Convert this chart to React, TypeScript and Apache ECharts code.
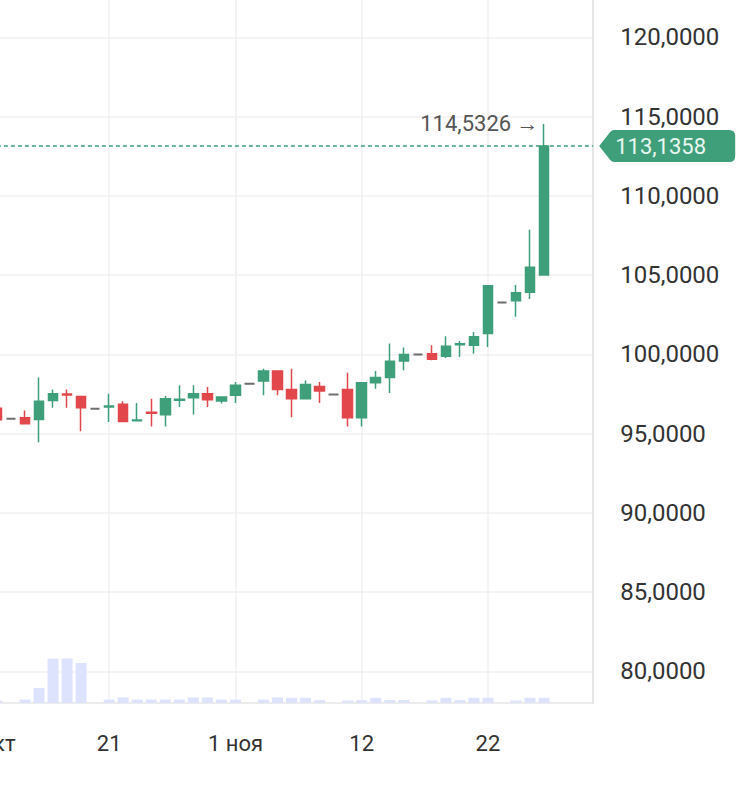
import React, { useEffect, useRef } from "react";
import * as echarts from "echarts";

// ---- data ----
const dates = [
  "2024-10-11", "2024-10-12", "2024-10-13", "2024-10-14", "2024-10-15", "2024-10-16", "2024-10-17", "2024-10-18",
  "2024-10-20", "2024-10-21", "2024-10-22", "2024-10-23", "2024-10-24", "2024-10-25", "2024-10-27", "2024-10-28",
  "2024-10-29", "2024-10-30", "2024-11-01", "2024-11-03", "2024-11-04", "2024-11-05", "2024-11-06", "2024-11-07",
  "2024-11-08", "2024-11-10", "2024-11-11", "2024-11-12", "2024-11-13", "2024-11-14", "2024-11-15", "2024-11-17",
  "2024-11-18", "2024-11-19", "2024-11-20", "2024-11-21", "2024-11-22", "2024-11-24", "2024-11-25", "2024-11-26",
  "2024-11-27", "2024-11-28", "2024-11-29", "2024-11-30",
];

const tickDates = ["2024-10-11", "2024-10-21", "2024-11-01", "2024-11-12", "2024-11-22"];
const tickLabels = ["11 окт", "21", "1 ноя", "12", "22"];

// [open, close, low, high]
const candles: number[][] = [
  [96.2, 96.6, 96.0, 96.8],
  [96.6, 95.87, 95.75, 96.75],
  [95.93, 95.93, 95.93, 95.93],
  [95.99, 95.61, 95.6, 96.46],
  [95.89, 97.04, 94.45, 98.53],
  [97.09, 97.51, 96.63, 97.77],
  [97.5, 97.43, 96.63, 97.77],
  [97.34, 96.63, 95.15, 97.36],
  [96.56, 96.56, 96.56, 96.56],
  [96.68, 96.74, 95.72, 97.51],
  [96.84, 95.76, 95.74, 97.04],
  [95.8, 95.86, 95.8, 96.92],
  [96.34, 96.28, 95.44, 97.19],
  [96.18, 97.19, 95.44, 97.36],
  [97.1, 97.16, 96.67, 98.04],
  [97.26, 97.51, 96.2, 98.04],
  [97.51, 97.13, 96.67, 97.93],
  [97.05, 97.3, 96.9, 97.32],
  [97.41, 98.04, 96.92, 98.25],
  [98.14, 98.14, 98.14, 98.14],
  [98.31, 98.94, 97.41, 99.09],
  [98.94, 97.77, 97.41, 98.97],
  [97.77, 97.19, 96.03, 99.09],
  [97.19, 98.1, 97.17, 98.35],
  [97.97, 97.68, 96.92, 98.25],
  [97.47, 97.47, 97.47, 97.47],
  [97.77, 96.0, 95.44, 98.84],
  [96.0, 98.2, 95.44, 98.22],
  [98.21, 98.53, 97.83, 98.94],
  [98.53, 99.56, 97.55, 100.68],
  [99.58, 99.98, 98.99, 100.42],
  [99.98, 99.98, 99.98, 99.98],
  [100.04, 99.68, 99.62, 100.57],
  [99.87, 100.51, 99.77, 101.14],
  [100.6, 100.66, 99.83, 100.84],
  [100.57, 101.1, 100.04, 101.41],
  [101.31, 104.32, 100.46, 104.35],
  [103.27, 103.27, 103.27, 103.27],
  [103.37, 103.88, 102.36, 104.37],
  [103.91, 105.49, 103.48, 107.85],
  [105.0, 113.1358, 104.95, 114.5326],
];

const volumes = [
  1.5, 1.2, 0, 1.7, 7.5, 22.2, 22.2, 20, 0, 1.7,
  2.8, 1.7, 1.7, 1.7, 1.7, 2.8, 2.8, 1.7, 1.7, 0,
  1.7, 2.8, 2.6, 2.6, 1.4, 0, 1.3, 1.4, 2.6, 1.5,
  1.5, 0, 1.3, 2.6, 1.4, 2.6, 2.6, 0, 1.3, 2.6, 2.6,
];

// ---- styling / layout ----
const GREEN = "#3f9f7b";
const RED = "#e2474b";
const GRAY = "#6e6e6e";
const GRID_LINE = "#f1f1f1";
const FRAME = "#e6e6e6";
const OFF = 60; // chart div shifted left so the first candles are cut off
const CHART_W = 800;
const CHART_H = 800;
const GRID_LEFT = 35.9;
const GRID_RIGHT = 146.8;
const GRID_BOTTOM = 97;
const FONT = "Roboto";

const fmt = (v: number) => v.toFixed(4).replace(".", ",");

echarts.graphic.registerShape(
  "priceTag",
  echarts.graphic.extendPath(
    "M0 16 L11 2 Q12.5 0 15 0 L130 0 Q136 0 136 6 L136 26 Q136 32 130 32 L15 32 Q12.5 32 11 30 Z",
    {}
  )
);

export default function App() {
  const ref = useRef<HTMLDivElement>(null);

  useEffect(() => {
    if (!ref.current) return;
    const chart = echarts.init(ref.current, null, { renderer: "svg" });

    const labelMap = new Map<string, string>();
    tickDates.forEach((d, i) => labelMap.set(d, tickLabels[i]));
    const isTick = (_i: number, v: string) => labelMap.has(v);

    const candleData = candles.map((c) => {
      const flat = c[0] === c[1] && c[2] === c[3] && c[0] === c[2];
      return flat
        ? {
            value: c,
            itemStyle: {
              color: GRAY,
              color0: GRAY,
              borderColor: GRAY,
              borderColor0: GRAY,
              borderColorDoji: GRAY,
              borderWidth: 2,
            },
          }
        : c;
    });

    const lastClose = candles[candles.length - 1][1];

    chart.setOption({
      animation: false,
      grid: [
        { left: GRID_LEFT, right: GRID_RIGHT, top: 0, bottom: GRID_BOTTOM },
        { left: GRID_LEFT, right: GRID_RIGHT, bottom: GRID_BOTTOM, height: 200 },
      ],
      xAxis: [
        {
          type: "category",
          gridIndex: 0,
          data: dates,
          boundaryGap: true,
          axisLine: { show: true, lineStyle: { color: FRAME, width: 1.5 } },
          axisTick: { show: false },
          axisLabel: {
            interval: isTick,
            formatter: (v: string) => labelMap.get(v) ?? "",
            fontFamily: FONT,
            fontSize: 22,
            color: "#333",
            margin: 29,
          },
          splitLine: {
            show: true,
            interval: isTick,
            alignWithLabel: true,
            lineStyle: { color: GRID_LINE, width: 1.5 },
          },
        },
        {
          type: "category",
          gridIndex: 1,
          data: dates,
          boundaryGap: true,
          show: false,
        },
      ],
      yAxis: [
        {
          type: "value",
          gridIndex: 0,
          position: "right",
          min: 78,
          max: 122.35,
          splitNumber: 9,
          minInterval: 5,
          maxInterval: 5,
          axisLine: { show: true, lineStyle: { color: FRAME, width: 2 } },
          axisTick: { show: false },
          axisLabel: {
            formatter: (v: number) => fmt(v),
            showMinLabel: false,
            showMaxLabel: false,
            fontFamily: FONT,
            fontSize: 24,
            color: "#333",
            margin: 27,
          },
          splitLine: {
            show: true,
            showMinLine: false,
            showMaxLine: false,
            lineStyle: { color: GRID_LINE, width: 1.5 },
          },
        },
        {
          type: "value",
          gridIndex: 1,
          min: 0,
          max: 100,
          show: false,
        },
      ],
      series: [
        {
          type: "bar",
          xAxisIndex: 1,
          yAxisIndex: 1,
          data: volumes,
          barWidth: 11,
          itemStyle: { color: "#dde3fc" },
          silent: true,
          z: 1,
        },
        {
          type: "candlestick",
          xAxisIndex: 0,
          yAxisIndex: 0,
          data: candleData,
          barWidth: 10,
          itemStyle: {
            color: GREEN,
            color0: RED,
            borderColor: GREEN,
            borderColor0: RED,
            borderWidth: 1.5,
          },
          markLine: {
            silent: true,
            symbol: ["none", "none"],
            label: { show: false },
            lineStyle: { color: GREEN, type: [4, 3], width: 1.5 },
            data: [{ yAxis: lastClose }],
          },
          markPoint: {
            silent: true,
            symbol: "circle",
            symbolSize: 1,
            itemStyle: { color: "rgba(0,0,0,0)" },
            label: {
              show: true,
              position: "left",
              distance: 5,
              formatter: (p: any) => fmt(p.value) + " →",
              fontFamily: FONT,
              fontSize: 22,
              color: "#555",
            },
            data: [{ type: "max", valueDim: "highest" }],
          },
          z: 3,
        },
      ],
    });

    const yPix = chart.convertToPixel({ yAxisIndex: 0 }, lastClose) as number;
    const tagX = CHART_W - GRID_RIGHT + 6;
    chart.setOption({
      graphic: [
        {
          type: "priceTag",
          x: tagX,
          y: yPix - 16,
          z: 100,
          style: { fill: GREEN },
        },
        {
          type: "text",
          x: tagX + 16,
          y: yPix,
          z: 101,
          style: {
            text: fmt(lastClose),
            fill: "#e9f7f0",
            font: `22px ${FONT}`,
            verticalAlign: "middle",
          },
        },
      ],
    });

    return () => chart.dispose();
  }, []);

  return (
    <div
      style={{
        position: "absolute",
        left: 0,
        top: 0,
        width: 740,
        height: 800,
        overflow: "hidden",
        background: "#fff",
      }}
    >
      <div
        ref={ref}
        style={{ position: "absolute", left: -OFF, top: 0, width: CHART_W, height: CHART_H }}
      />
    </div>
  );
}
